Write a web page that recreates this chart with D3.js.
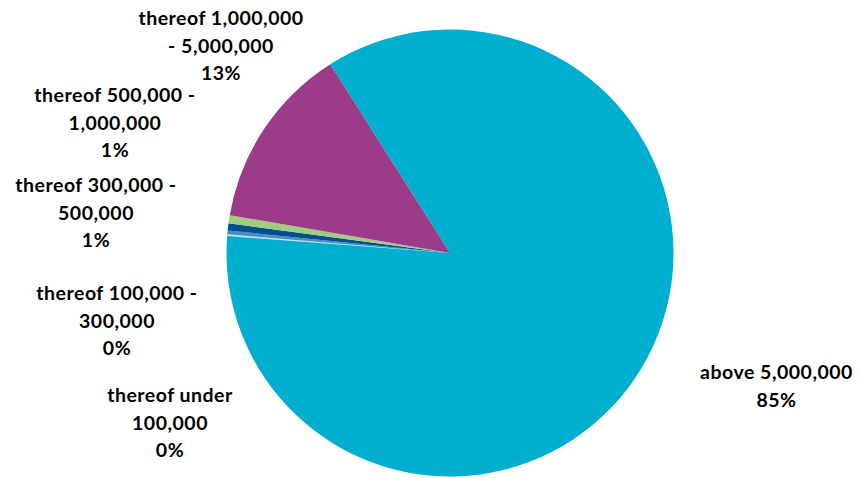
<!DOCTYPE html>
<html>
<head>
<meta charset="utf-8">
<script src="https://cdn.jsdelivr.net/npm/d3@7"></script>
<style>
  html, body { margin: 0; padding: 0; background: #fff; }
  svg { display: block; }
  .lbl { font-family: Lato, "Open Sans", sans-serif; font-weight: 700; font-size: 19.5px; letter-spacing: 0.5px; fill: #000; }
</style>
</head>
<body>
<script>
// ---- data ----
const categories = [
  "thereof under\n100,000",
  "thereof 100,000 -\n300,000",
  "thereof 300,000 -\n500,000",
  "thereof 500,000 -\n1,000,000",
  "thereof 1,000,000\n- 5,000,000",
  "above 5,000,000"
];
const shares = [0.12, 0.28, 0.52, 0.58, 13.3, 85.2];
const colors = ["#c5e0f2", "#4a8ccb", "#00508f", "#a2cd7c", "#9c3b8a", "#00aecf"];

// ---- layout ----
const W = 860, H = 478;
const cx = 450, cy = 253, R = 223.5;
const startDeg = 274.35;
// label block centres (x, centre of first line y)
const labelPos = [
  [170, 395], [117, 293], [96, 185], [115, 95], [221, 18], [776.5, 372]
];
const lineH = 27.5;

const svg = d3.select("body").append("svg").attr("width", W).attr("height", H);

const pie = d3.pie().sort(null).value(d => d)
  .startAngle(startDeg * Math.PI / 180)
  .endAngle(startDeg * Math.PI / 180 + 2 * Math.PI);
const arcs = pie(shares);
const arc = d3.arc().innerRadius(0).outerRadius(R);

const g = svg.append("g").attr("transform", `translate(${cx},${cy})`);
g.selectAll("path").data(arcs).join("path")
  .attr("d", arc)
  .attr("fill", (d, i) => colors[i]);

const total = d3.sum(shares);
const fmt = v => Math.round(v / total * 100) + "%";

categories.forEach((name, i) => {
  const lines = name.split("\n").concat([fmt(shares[i])]);
  const t = svg.append("text").attr("class", "lbl").attr("text-anchor", "middle");
  lines.forEach((ln, k) => {
    t.append("tspan")
      .attr("x", labelPos[i][0])
      .attr("y", labelPos[i][1] + k * lineH + 7)
      .text(ln);
  });
});
</script>
</body>
</html>
